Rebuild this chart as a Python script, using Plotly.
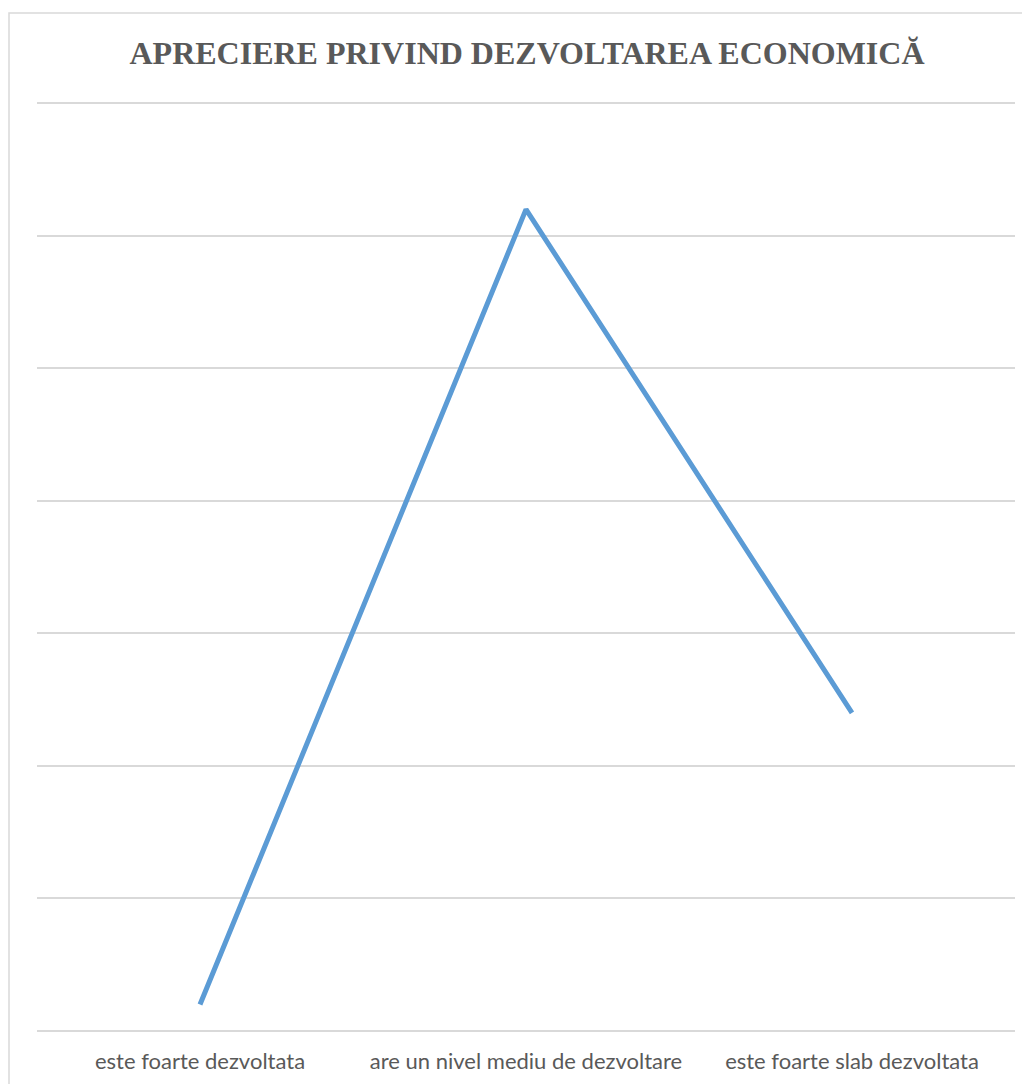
import plotly.graph_objects as go

categories = ["este foarte dezvoltata", "are un nivel mediu de dezvoltare", "este foarte slab dezvoltata"]
values = [2, 62, 24]

# page body has an 8px margin, so offsets below are in figure coords
W, H = 1030, 1084
L, R, T, B = 29, 23, 94, 61

fig = go.Figure()
fig.add_trace(go.Scatter(x=categories, y=values, mode="lines",
                         line=dict(color="#5B9BD5", width=5)))

pw = W - L - R
ph = H - T - B
# outer chart border (extends past the right/bottom of the image)
fig.add_shape(type="rect", xref="paper", yref="paper",
              x0=(1 - L) / pw, x1=(W + 20 - L) / pw,
              y0=-(B + 20) / ph, y1=(H - 5 - B) / ph,
              line=dict(color="#D9D9D9", width=1.5), fillcolor="rgba(0,0,0,0)")

fig.update_layout(
    width=W, height=H,
    margin=dict(l=L, r=R, t=T, b=B, autoexpand=False),
    paper_bgcolor="white", plot_bgcolor="white",
    showlegend=False,
    title=dict(text="<b>APRECIERE PRIVIND DEZVOLTAREA ECONOMICĂ</b>",
               x=(527 - 8) / W, xanchor="center", y=1 - 45 / H, yanchor="middle",
               font=dict(family="Liberation Serif", size=32, color="#595959")),
)
fig.update_xaxes(range=[-0.5, 2.5], automargin=False, showgrid=False, showline=False,
                 ticks="outside", ticklen=11, tickcolor="rgba(0,0,0,0)",
                 tickfont=dict(family="Lato", size=22, color="#595959"))
fig.update_yaxes(range=[0, 70.1], dtick=10, showticklabels=False, automargin=False,
                 gridcolor="#D9D9D9", gridwidth=1.5,
                 zeroline=True, zerolinecolor="#D9D9D9", zerolinewidth=1.5)

fig.write_html("out.html")
